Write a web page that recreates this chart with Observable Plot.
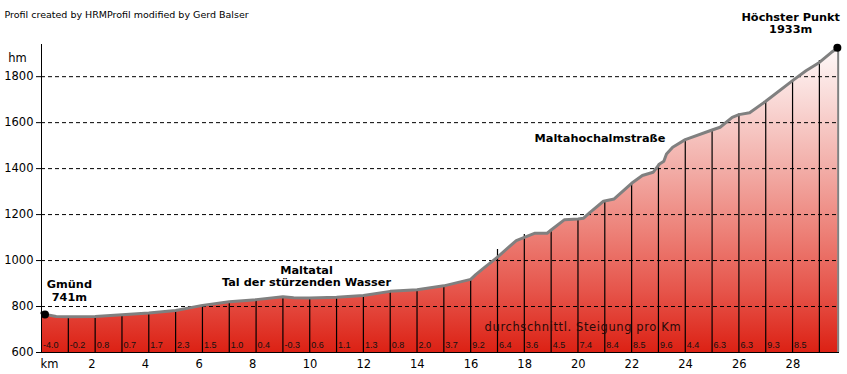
<!DOCTYPE html>
<html><head><meta charset="utf-8">
<script src="https://cdn.jsdelivr.net/npm/d3@7"></script>
<script src="https://cdn.jsdelivr.net/npm/@observablehq/plot@0.6"></script>
<style>body{margin:0;background:#fff;} #chart svg{display:block;}</style>
</head><body><div id="chart"></div>
<script>
// Elevation profile (km, hm)
const profileKm = [0, 0.15, 0.55, 1, 2, 3, 4, 5, 6, 7, 8, 9, 9.4, 10, 11, 12, 13, 14, 15, 16, 16.2, 16.45, 17, 17.7, 18, 18.4, 18.85, 19, 19.5, 20, 20.2, 20.45, 20.95, 21.35, 22, 22.4, 22.8, 23.04, 23.2, 23.3, 23.53, 24, 25, 25.3, 25.75, 26, 26.4, 27, 28, 28.5, 29, 29.45, 29.7];
const profileElev = [772, 765, 757, 756, 757, 764, 772, 783, 805, 821, 830, 843, 838, 837, 840, 848, 866, 873, 890, 918, 940, 964, 1015, 1087, 1101, 1119, 1119, 1133, 1178, 1181, 1184, 1210, 1258, 1268, 1336, 1370, 1384, 1420, 1432, 1464, 1493, 1526, 1568, 1580, 1623, 1635, 1643, 1693, 1783, 1826, 1862, 1906, 1926];
// km marker lines (km 1..29) and their top elevations
const kmLines = d3.range(1, 30);
const kmTops = [756, 757, 764, 772, 783, 805, 821, 830, 843, 837, 840, 848, 866, 873, 890, 918, 1048, 1113, 1133, 1181, 1258, 1340, 1420, 1522, 1568, 1638, 1696, 1786, 1870];
// average gradient per km (km 0..28)
const gradKm = d3.range(0, 29);
const gradLabels = ["-4.0","-0.2","0.8","0.7","1.7","2.3","1.5","1.0","0.4","-0.3","0.6","1.1","1.3","0.8","2.0","3.7","9.2","6.4","3.6","4.5","7.4","8.4","8.5","9.6","4.4","6.3","6.3","9.3","8.5"];
const yTicks = [600, 800, 1000, 1200, 1400, 1600, 1800];
const gridValues = [800, 1000, 1200, 1400, 1600, 1800];
const xTicks = [2, 4, 6, 8, 10, 12, 14, 16, 18, 20, 22, 24, 26, 28];
const markerKm = [0.13, 29.67];
const markerElev = [765, 1926];
const placeNames = ["Gmünd", "741m", "Maltatal", "Tal der stürzenden Wasser", "Maltahochalmstraße", "Höchster Punkt", "1933m"];
const placeKm = [1.04, 1.04, 9.88, 9.88, 20.82, 27.93, 27.93];
const placeElev = [896, 839, 957, 907, 1531, 2058, 2006];
const titleText = "Profil created by HRMProfil modified by Gerd Balser";
const noteText = "durchschnittl. Steigung pro Km";

const profile = profileKm.map((k, i) => ({km: k, elev: profileElev[i]}));
const lines = kmLines.map((k, i) => ({km: k, top: kmTops[i]}));
const grads = gradKm.map((k, i) => ({km: k, label: gradLabels[i]}));
const markers = markerKm.map((k, i) => ({km: k, elev: markerElev[i]}));
const places = placeNames.map((t, i) => ({text: t, km: placeKm[i], elev: placeElev[i]}));

const W = 847, H = 374, mT = 44, mB = 22, mL = 41, mR = 8;
const F = "DejaVu Sans, Verdana, sans-serif";
const last = profile[profile.length - 1];

const defs = () => {
  const d = d3.create("svg:defs");
  const g = d.append("linearGradient").attr("id", "relief")
    .attr("gradientUnits", "userSpaceOnUse")
    .attr("x1", 0).attr("x2", 0).attr("y1", mT).attr("y2", H - mB);
  [[0.0, "#fffbfb"], [0.214, "#f8d3d0"], [0.41, "#f2aca6"], [0.604, "#ed8279"], [0.80, "#e6554b"], [1, "#dc2114"]]
    .forEach(([o, c]) => g.append("stop").attr("offset", o).attr("stop-color", c));
  return d.node();
};

const chart = Plot.plot({
  width: W, height: H,
  marginTop: mT, marginBottom: mB, marginLeft: mL, marginRight: mR,
  style: {fontFamily: F, background: "#fff"},
  x: {domain: [0, 29.75]},
  y: {domain: [600, 1940]},
  marks: [
    defs,
    Plot.areaY(profile, {x: "km", y1: 600, y2: "elev", fill: "url(#relief)"}),
    Plot.ruleY(gridValues, {stroke: "#000", strokeWidth: 1, strokeDasharray: "4,3"}),
    Plot.ruleX(lines, {x: "km", y1: 600, y2: "top", stroke: "#000", strokeWidth: 1.2}),
    Plot.line(profile, {x: "km", y: "elev", stroke: "#808080", strokeWidth: 3}),
    Plot.ruleX([last], {x: "km", y1: 600, y2: "elev", stroke: "#808080", strokeWidth: 2}),
    Plot.text(grads, {x: "km", y: 630, text: "label", textAnchor: "start", dx: 1.5, fontSize: 9, fontFamily: "Liberation Sans, Arial, sans-serif", fill: "#111"}),
    Plot.text([noteText], {x: 16.52, y: 709, text: d => d, textAnchor: "start", fontSize: 11.5, fontFamily: F, fill: "#2a0a08"}),
    Plot.ruleX([0], {stroke: "#000", strokeWidth: 1}),
    Plot.ruleY([600], {stroke: "#000", strokeWidth: 1}),
    Plot.axisY({ticks: yTicks, tickFormat: d => String(d), tickSize: 5, tickPadding: 3, fontSize: 11.5, label: null, stroke: "#000"}),
    Plot.axisX({ticks: xTicks, tickFormat: d => String(d), tickSize: 0, tickPadding: 7, textAnchor: "start", dx: -7, fontSize: 11.5, label: null}),
    Plot.text(["km"], {frameAnchor: "bottom-left", text: d => d, textAnchor: "start", lineAnchor: "top", dx: -1, dy: 7, fontSize: 11.5}),
    Plot.text(["hm"], {frameAnchor: "top-left", text: d => d, textAnchor: "middle", dx: -24, dy: 9, fontSize: 11.5}),
    Plot.text([titleText], {frameAnchor: "top-left", text: d => d, textAnchor: "start", lineAnchor: "middle", dx: -37, dy: -30, fontSize: 9.5, fill: "#000"}),
    Plot.dot(markers, {x: "km", y: "elev", r: 4, fill: "#000"}),
    Plot.text(places, {x: "km", y: "elev", text: "text", fontSize: 11.3, fontWeight: "bold", fontFamily: F, fill: "#000"})
  ]
});

d3.select(chart).selectAll("text")
  .filter(function() { return this.textContent === noteText; })
  .attr("textLength", 196).attr("lengthAdjust", "spacing");

document.getElementById("chart").appendChild(chart);
</script>
</body></html>
